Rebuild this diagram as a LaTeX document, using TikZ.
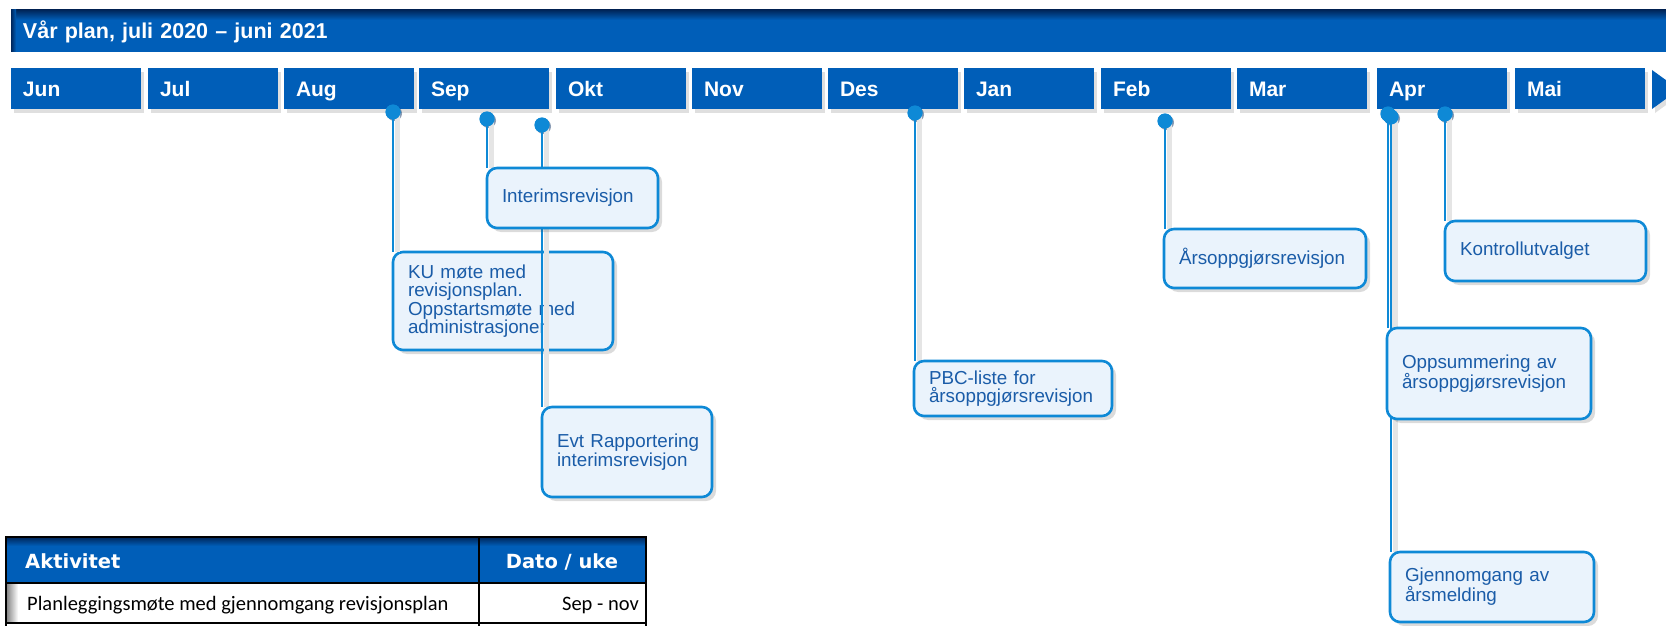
\documentclass[tikz,border=0pt]{standalone}
\usepackage{fontspec}
\setmainfont{Liberation Sans}
\newfontfamily\dvb{DejaVu Sans}
\newfontfamily\carl{Carlito}
\usetikzlibrary{shadows}
\definecolor{tlblue}{RGB}{0,94,184}
\definecolor{tldark}{RGB}{0,38,90}
\definecolor{lnblue}{RGB}{14,137,214}
\definecolor{boxfill}{RGB}{234,243,252}
\definecolor{boxtext}{RGB}{26,92,168}
\newcommand{\oneln}[1]{\mbox{#1}}
\begin{document}
\begin{tikzpicture}[x=1pt,y=-1pt,
  month/.style={fill=tlblue, anchor=north west, minimum height=41pt, text width=106pt,
    inner xsep=12pt, inner ysep=0pt, outer sep=0pt, text height=15pt, text depth=0pt, align=left,
    text=white, font=\bfseries\fontsize{21pt}{25pt}\selectfont,
    drop shadow={shadow xshift=3pt, shadow yshift=-4pt, opacity=.18, fill=black!70}},
  evbox/.style={draw=lnblue, line width=2.6pt, fill=boxfill, rounded corners=10pt,
    anchor=north west, align=left, inner xsep=15pt, inner ysep=0pt, outer sep=0pt,
    text=boxtext, font=\fontsize{18.8pt}{18.5pt}\selectfont,
    drop shadow={shadow xshift=4pt, shadow yshift=-4pt, opacity=.2, fill=black!70}},
  dot/.style={circle, fill=lnblue, minimum size=15pt, inner sep=0pt,
    drop shadow={shadow xshift=1.5pt, shadow yshift=-1.5pt, opacity=.45, fill=tldark}},
  conn/.style={draw=lnblue, line width=2.6pt},
  connsh/.style={draw=black!10, line width=5pt, transform canvas={xshift=4pt}},
  tbl/.style={draw=black, line width=2pt},
  thead/.style={inner sep=0pt, text=white, font=\dvb\bfseries\fontsize{19.5pt}{22pt}\selectfont},
  tcell/.style={inner sep=0pt, text=black, font=\carl\fontsize{20.5pt}{24pt}\selectfont},
]
\useasboundingbox (0,0) rectangle (1666,626);

% title bar
\node[fill=tlblue, anchor=north west, minimum width=1660pt, minimum height=42pt,
  text width=1636pt, inner xsep=12pt, inner ysep=0pt, outer sep=0pt, text height=15pt,
  text depth=0pt, align=left, text=white, font=\bfseries\fontsize{21.5pt}{25pt}\selectfont]
  (title) at (11,10) {Vår plan, juli 2020 – juni 2021};
\shade[top color=tldark, bottom color=tlblue] (11,10) rectangle (1672,20);
\shade[left color=tldark, right color=tlblue] (11,10) rectangle (16,52);

% months
\foreach \m/\x in {Jun/11,Jul/148,Aug/284,Sep/419,Okt/556,Nov/692,Des/828,Jan/964,Feb/1101,Mar/1237,Apr/1377,Mai/1515}
  \node[month] (m\m) at (\x,68) {\m};
\path[fill=tlblue, drop shadow={shadow xshift=3pt, shadow yshift=-4pt, opacity=.18, fill=black!70}]
  (1652,70) -- (1679,89.5) -- (1652,109) -- cycle;

% dots
\node[dot] (d1) at (393,112) {};
\node[dot] (d2) at (487,119) {};
\node[dot] (d3) at (542,125) {};
\node[dot] (d4) at (915,113) {};
\node[dot] (d5) at (1165,121) {};
\node[dot] (d6) at (1388,114) {};
\node[dot] (d6b) at (1391,117) {};
\node[dot] (d7) at (1445,114) {};

% KU box (below the Okt line)
\node[evbox, minimum width=220pt, minimum height=98pt, text width=190pt] (ku) at (393,252)
  {\oneln{KU møte med}\\\oneln{revisjonsplan.}\\\oneln{Oppstartsmøte med}\\\oneln{administrasjonen}};

% top-left corners of the other boxes
\coordinate (intT) at (487,168);
\coordinate (evtT) at (542,407);
\coordinate (pbcT) at (914,361);
\coordinate (arsT) at (1164,229);
\coordinate (konT) at (1445,221);
\coordinate (oppT) at (1387,328);
\coordinate (gjeT) at (1390,552);

% connectors: shadows then lines
\foreach \d/\t in {d1/ku.north, d2/intT, d3/evtT, d4/pbcT, d5/arsT, d6/oppT, d6b/gjeT, d7/konT}{
  \draw[connsh] (\d.center) -- (\d.center |- \t);
}
\foreach \d/\t in {d1/ku.north, d2/intT, d3/evtT, d4/pbcT, d5/arsT, d6/oppT, d6b/gjeT, d7/konT}{
  \draw[conn] (\d.center) -- (\d.center |- \t);
}

% other boxes
\node[evbox, minimum width=171pt, minimum height=60pt, text width=141pt] (int) at (intT)
  {\oneln{Interimsrevisjon}};
\node[evbox, minimum width=170pt, minimum height=90pt, text width=140pt] (evt) at (evtT)
  {\oneln{Evt Rapportering}\\\oneln{interimsrevisjon}};
\node[evbox, minimum width=198pt, minimum height=55pt, text width=168pt] (pbc) at (pbcT)
  {\oneln{PBC-liste for}\\\oneln{årsoppgjørsrevisjon}};
\node[evbox, minimum width=202pt, minimum height=59pt, text width=172pt] (ars) at (arsT)
  {\oneln{Årsoppgjørsrevisjon}};
\node[evbox, minimum width=201pt, minimum height=60pt, text width=171pt] (kon) at (konT)
  {\oneln{Kontrollutvalget}};
\node[evbox, minimum width=204pt, minimum height=91pt, text width=174pt] (opp) at (oppT)
  {\oneln{Oppsummering av}\\\oneln{årsoppgjørsrevisjon}};
\node[evbox, minimum width=204pt, minimum height=70pt, text width=174pt] (gje) at (gjeT)
  {\oneln{Gjennomgang av}\\\oneln{årsmelding}};

% dots on top of the connectors
\foreach \d in {d1,d2,d3,d4,d5,d6,d6b,d7}
  \fill[lnblue] (\d.center) circle (7.5pt);

% table
\fill[tlblue] (6,537) rectangle (646,583);
\shade[top color=tldark, bottom color=tlblue] (6,537) rectangle (646,546);
\fill[white] (6,583) rectangle (646,630);
\shade[left color=black!50, right color=white] (6,583) rectangle (18,623);
\draw[tbl] (6,632) -- (6,537) -- (646,537) -- (646,632);
\draw[tbl] (6,583) -- (646,583);
\draw[tbl] (6,623) -- (646,623);
\draw[tbl] (479,537) -- (479,632);
\node[thead, anchor=base west] (akt) at (25,568) {Aktivitet};
\node[thead, anchor=base] (dato) at (562,568) {Dato / uke};
\node[tcell, anchor=base west] (r1a) at (27,610) {Planleggingsmøte med gjennomgang revisjonsplan};
\node[tcell, anchor=base east] (r1b) at (639,610) {Sep - nov};
\end{tikzpicture}
\end{document}
